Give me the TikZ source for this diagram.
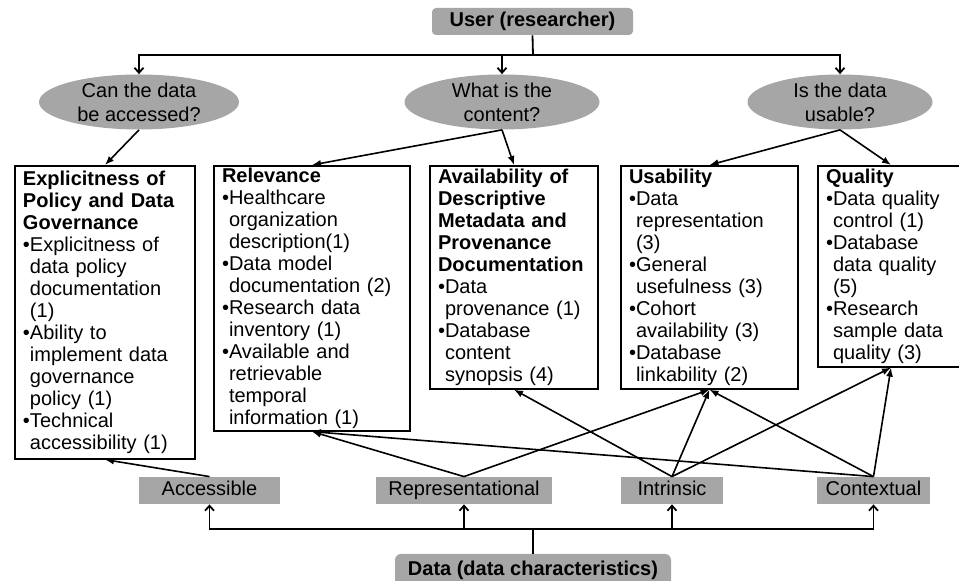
\documentclass[tikz,border=0pt]{standalone}
\usepackage{fontspec}
\setmainfont{Liberation Sans}
\usetikzlibrary{arrows.meta,shapes.geometric}
\definecolor{boxgray}{RGB}{166,166,166}
\newcommand{\bul}{\makebox[3.5pt][l]{\textbullet}}
\newcommand{\ind}{\hspace*{3.5pt}}

\begin{document}
\begin{tikzpicture}[x=0.5pt,y=-0.5pt,
  graybox/.style={fill=boxgray,inner sep=0pt,minimum height=13.5pt,text height=7.3pt,text depth=2.2pt},
  question/.style={ellipse,fill=boxgray,inner sep=0pt,minimum width=#1,minimum height=27.5pt,align=center},
  infobox/.style={draw,line width=1pt,anchor=north west,inner xsep=4pt,inner ysep=1.5pt,
    text width=#1,align=left,font=\fontsize{10}{11}\selectfont},
  link/.style={line width=0.8pt,-{Latex[length=4.5pt,width=3.5pt]}},
  bus/.style={line width=0.9pt},
  busarrow/.style={line width=0.9pt,-{Straight Barb[length=2.5pt,width=4.5pt]}}]
  \useasboundingbox (0,0) rectangle (959,581);

  \node[graybox,rounded corners=2pt,minimum width=100.5pt,font=\bfseries] (user) at (532.5,21.5) {User (researcher)};

  \node[question=100pt] (qacc) at (139,102) {Can the data\\be accessed?};
  \node[question=97.5pt] (qcon) at (502,102) {What is the\\content?};
  \node[question=92.5pt] (quse) at (840,102) {Is the data\\usable?};

  \node[infobox=82pt,inner ysep=2.5pt] (policy) at (14,165) {\textbf{Explicitness of}\\\textbf{Policy and Data}\\\textbf{Governance}\\
    \bul Explicitness of\\\ind data policy\\\ind documentation\\\ind (1)\\
    \bul Ability to\\\ind implement data\\\ind governance\\\ind policy (1)\\
    \bul Technical\\\ind accessibility (1)};
  \node[infobox=90pt,inner ysep=1pt] (relev) at (213,165) {\textbf{Relevance}\\
    \bul Healthcare\\\ind organization\\\ind description(1)\\
    \bul Data model\\\ind documentation (2)\\
    \bul Research data\\\ind inventory (1)\\
    \bul Available and\\\ind retrievable\\\ind temporal\\\ind information (1)};
  \node[infobox=76pt] (avail) at (429,165) {\textbf{Availability of}\\\textbf{Descriptive}\\\textbf{Metadata and}\\\textbf{Provenance}\\\textbf{Documentation}\\
    \bul Data\\\ind provenance (1)\\
    \bul Database\\\ind content\\\ind synopsis (4)};
  \node[infobox=80.5pt] (usab) at (620,165) {\textbf{Usability}\\
    \bul Data\\\ind representation\\\ind (3)\\
    \bul General\\\ind usefulness (3)\\
    \bul Cohort\\\ind availability (3)\\
    \bul Database\\\ind linkability (2)};
  \node[infobox=65pt] (qual) at (817,165) {\textbf{Quality}\\
    \bul Data quality\\\ind control (1)\\
    \bul Database\\\ind data quality\\\ind (5)\\
    \bul Research\\\ind sample data\\\ind quality (3)};

  \node[graybox,minimum width=70.5pt] (acc) at (209.5,490.5) {Accessible};
  \node[graybox,minimum width=88pt] (rep) at (464,490.5) {Representational};
  \node[graybox,minimum width=51pt] (intr) at (672,490.5) {Intrinsic};
  \node[graybox,minimum width=56.5pt] (ctx) at (873.5,490.5) {Contextual};

  \node[graybox,rounded corners=3pt,minimum width=138pt,minimum height=16pt,font=\bfseries] (data) at (533,570) {Data (data characteristics)};

  \coordinate (ubus) at (533,55);
  \draw[bus] (user.south) -- (ubus);
  \draw[busarrow] (ubus) -| (qacc.north);
  \draw[busarrow] (ubus) -| (quse.north);
  \draw[busarrow] (qcon.north |- ubus) -- (qcon.north);

  \draw[link] (qacc.south) -- (policy.north);
  \draw[link] (qcon.south) -- (relev.north);
  \draw[link] (qcon.south) -- (avail.north);
  \draw[link] (quse.south) -- (usab.north);
  \draw[link] (quse.south) -- (qual.north);

  \foreach \a/\b in {acc/policy,rep/relev,rep/usab,intr/avail,intr/usab,intr/qual,ctx/relev,ctx/usab,ctx/qual}
    \draw[link] (\a.north) -- (\b.south);

  \coordinate (dbus) at (533,529);
  \draw[bus] (data.north) -- (dbus);
  \draw[busarrow] (dbus) -| (acc.south);
  \draw[busarrow] (dbus) -| (ctx.south);
  \draw[busarrow] (rep.south |- dbus) -- (rep.south);
  \draw[busarrow] (intr.south |- dbus) -- (intr.south);
\end{tikzpicture}
\end{document}
